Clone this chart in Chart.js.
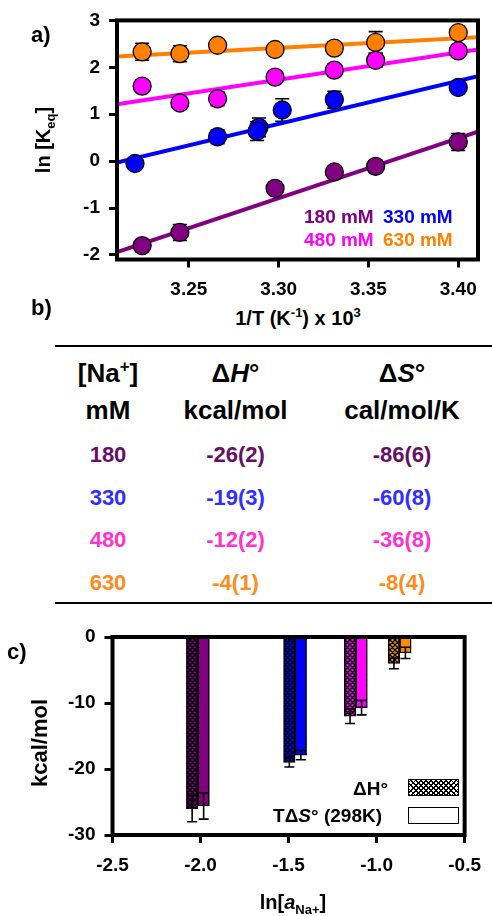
<!DOCTYPE html>
<html><head><meta charset="utf-8">
<script src="https://cdn.jsdelivr.net/npm/chart.js@4.4.1/dist/chart.umd.min.js"></script>
<style>
html,body{margin:0;padding:0;background:#fff;}
body{width:492px;height:916px;position:relative;overflow:hidden;font-family:"Liberation Sans",Arial,sans-serif;font-weight:bold;color:#000;}
.t,.r,.l{position:absolute;white-space:nowrap;line-height:1;}
.t{transform:translate(-50%,-50%);}
.r{transform:translate(-100%,-50%);}
.l{transform:translate(0,-50%);}
.rot{transform:translate(-50%,-50%) rotate(-90deg);}
sub,sup{line-height:0;font-size:65%;}
canvas{position:absolute;left:0;}
.hr{position:absolute;left:55px;width:437px;height:2.5px;background:#000;}
.box{position:absolute;box-sizing:border-box;border:1.5px solid #000;background:#fff;}
.hatchbox{background-color:#fff;background-image:repeating-linear-gradient(45deg,#000 0 1.3px,transparent 1.3px 3.6px),repeating-linear-gradient(-45deg,#000 0 1.3px,transparent 1.3px 3.6px);}
</style></head>
<body>
<canvas id="ca" width="492" height="300" style="top:0"></canvas>
<canvas id="cc" width="492" height="306" style="top:610px"></canvas>

<div class="l" style="left:31px;top:35px;font-size:22px">a)</div>
<div class="t rot" style="left:43px;top:140px;font-size:20px">ln [K<sub>eq</sub>]</div>
<div class="t" style="left:298px;top:318px;font-size:20px">1/T (K<sup>-1</sup>) x 10<sup>3</sup></div>
<div id="legA"></div>

<div class="l" style="left:31px;top:308px;font-size:22px">b)</div>
<div class="hr" style="top:344.5px"></div>
<div class="hr" style="top:601.5px"></div>
<div id="tbl"></div>

<div class="l" style="left:7px;top:652px;font-size:22px">c)</div>
<div class="t rot" style="left:40px;top:743px;font-size:22px">kcal/mol</div>
<div class="t" style="left:293px;top:902px;font-size:20px">ln[<i>a</i><sub>Na+</sub>]</div>
<div class="r" style="left:388px;top:788px;font-size:19px">ΔH°</div>
<div class="r" style="left:382px;top:815px;font-size:19px">TΔ<i>S</i>° (298K)</div>
<div class="box hatchbox" style="left:408px;top:779px;width:51px;height:17px"></div>
<div class="box" style="left:408px;top:807px;width:51px;height:17px"></div>

<script>
// ---------- Panel a data ----------
const xTicksA = [3.25, 3.30, 3.35, 3.40];
const xTickLabelsA = ['3.25', '3.30', '3.35', '3.40'];
const yTicksA = [-2, -1, 0, 1, 2, 3];
const yTickLabelsA = ['-2', '-1', '0', '1', '2', '3'];

const orangeX = [3.224, 3.245, 3.266, 3.298, 3.331, 3.354, 3.400];
const orangeY = [2.33, 2.29, 2.47, 2.38, 2.41, 2.53, 2.74];
const orangeErr = [0.18, 0.17, 0.1, 0.1, 0.1, 0.23, 0.1];
const pinkX = [3.224, 3.245, 3.266, 3.298, 3.331, 3.354, 3.400];
const pinkY = [1.60, 1.24, 1.33, 1.79, 1.94, 2.15, 2.35];
const pinkErr = [0.1, 0.1, 0.15, 0.1, 0.1, 0.15, 0.1];
const blueX = [3.220, 3.266, 3.289, 3.288, 3.302, 3.331, 3.400];
const blueY = [-0.05, 0.52, 0.72, 0.64, 1.09, 1.31, 1.57];
const blueErr = [0.1, 0.15, 0.2, 0.2, 0.24, 0.18, 0.1];
const purpleX = [3.224, 3.245, 3.298, 3.331, 3.354, 3.400];
const purpleY = [-1.80, -1.52, -0.58, -0.23, -0.11, 0.41];
const purpleErr = [0.1, 0.17, 0.1, 0.1, 0.12, 0.18];

const fitX = [3.21, 3.411];
const fitOrange = [2.23, 2.64];
const fitPink = [1.21, 2.38];
const fitBlue = [-0.03, 1.81];
const fitPurple = [-1.94, 0.63];

const legendA = [['180 mM', '#800080'], ['330 mM', '#0000ff'], ['480 mM', '#ff00ff'], ['630 mM', '#ff8000']];

// ---------- Table data ----------
const tableHead1 = ['[Na<sup>+</sup>]', 'Δ<i>H</i>°', 'Δ<i>S</i>°'];
const tableHead2 = ['mM', 'kcal/mol', 'cal/mol/K'];
const naConc = ['180', '330', '480', '630'];
const dHText = ['-26(2)', '-19(3)', '-12(2)', '-4(1)'];
const dSText = ['-86(6)', '-60(8)', '-36(8)', '-8(4)'];
const tableColors = ['#660f66', '#2f2fff', '#ff33cc', '#ff8c1a'];

// ---------- Panel c data ----------
const xTicksC = [-2.5, -2.0, -1.5, -1.0, -0.5];
const xTickLabelsC = ['-2.5', '-2.0', '-1.5', '-1.0', '-0.5'];
const yTicksC = [-30, -20, -10, 0];
const yTickLabelsC = ['-30', '-20', '-10', '0'];
const lnA = [-2.015, -1.463, -1.118, -0.869];
const dH = [-26, -19, -12, -4];
const dHErr = [2, 0.7, 1.1, 0.8];
const TdS = [-25.6, -17.9, -10.7, -2.4];
const TdSErr = [2, 0.7, 1.1, 0.85];
const barColors = ['#800080', '#0000ff', '#ff00ff', '#ff8c00'];

// ---------- HTML texts ----------
(function(){
  const lg = document.getElementById('legA');
  const pos = [[304,216],[383,216],[304,239],[383,239]];
  legendA.forEach((e,i)=>{
    const d = document.createElement('div');
    d.className='l'; d.style.left=pos[i][0]+'px'; d.style.top=pos[i][1]+'px';
    d.style.fontSize='19px'; d.style.color=e[1]; d.textContent=e[0];
    lg.appendChild(d);
  });
  const tb = document.getElementById('tbl');
  const cols = [108, 235.5, 402];
  function cell(html, x, y, size, color){
    const d = document.createElement('div');
    d.className='t'; d.style.left=x+'px'; d.style.top=y+'px';
    d.style.fontSize=size+'px'; if(color) d.style.color=color; d.innerHTML=html;
    tb.appendChild(d);
  }
  tableHead1.forEach((h,i)=>cell(h, cols[i], 373, 26));
  tableHead2.forEach((h,i)=>cell(h, cols[i], 409.5, 26));
  const rowsY = [455, 497.5, 540, 583];
  naConc.forEach((c,i)=>{
    cell(c, cols[0], rowsY[i], 22, tableColors[i]);
    cell(dHText[i], cols[1], rowsY[i], 22, tableColors[i]);
    cell(dSText[i], cols[2], rowsY[i], 22, tableColors[i]);
  });
})();

// ---------- Chart helpers ----------
const FONT = '"Liberation Sans", Arial, sans-serif';
const tickFont = {family: FONT, size: 19, weight: 'bold'};
function fixTicks(vals){ return function(scale){ scale.ticks = vals.map(v=>({value:v})); }; }
const framePlugin = {
  id:'frame',
  afterDraw(chart){
    const {ctx, chartArea:a} = chart;
    ctx.save(); ctx.lineWidth = 4; ctx.strokeStyle = '#000';
    ctx.strokeRect(a.left, a.top, a.right-a.left, a.bottom-a.top);
    ctx.restore();
  }
};
function drawErr(ctx, x, yTop, yBot, half){
  ctx.beginPath();
  ctx.moveTo(x, yTop); ctx.lineTo(x, yBot);
  ctx.moveTo(x-half, yTop); ctx.lineTo(x+half, yTop);
  ctx.moveTo(x-half, yBot); ctx.lineTo(x+half, yBot);
  ctx.stroke();
}
const errPluginA = {
  id:'errA',
  beforeDatasetsDraw(chart){
    const {ctx, scales:{x, y}} = chart;
    ctx.save(); ctx.strokeStyle='#000'; ctx.lineWidth=1.6;
    chart.data.datasets.forEach(ds=>{
      if(!ds.errors) return;
      ds.data.forEach((p,i)=>{
        const e = ds.errors[i];
        drawErr(ctx, x.getPixelForValue(p.x), y.getPixelForValue(p.y+e), y.getPixelForValue(p.y-e), 7);
      });
    });
    ctx.restore();
  }
};
const errPluginC = {
  id:'errC',
  afterDatasetsDraw(chart){
    const {ctx, scales:{y}} = chart;
    ctx.save(); ctx.strokeStyle='#000'; ctx.lineWidth=1.6;
    chart.data.datasets.forEach((ds,di)=>{
      const meta = chart.getDatasetMeta(di);
      ds.data.forEach((p,i)=>{
        const e = ds.errors[i];
        drawErr(ctx, meta.data[i].x, y.getPixelForValue(p.y+e), y.getPixelForValue(p.y-e), 5);
      });
    });
    ctx.restore();
  }
};
function pts(xs, ys){ return xs.map((x,i)=>({x, y:ys[i]})); }
function pointSet(label, xs, ys, errs, color){
  return {label, data: pts(xs, ys), errors: errs, order: 1,
    backgroundColor: color, borderColor: '#000',
    pointBackgroundColor: color, pointBorderColor: '#000', pointBorderWidth: 1.3,
    pointRadius: 9, pointHoverRadius: 9};
}
function fitSet(label, ys, color){
  return {type:'line', label, data: pts(fitX, ys), order: 2,
    borderColor: color, borderWidth: 4, pointRadius: 0, fill: false};
}

// ---------- Panel a chart ----------
new Chart(document.getElementById('ca'), {
  type: 'scatter',
  data: {datasets: [
    pointSet('180 mM', purpleX, purpleY, purpleErr, '#800080'),
    pointSet('330 mM', blueX, blueY, blueErr, '#0000ff'),
    pointSet('480 mM', pinkX, pinkY, pinkErr, '#ff00ff'),
    pointSet('630 mM', orangeX, orangeY, orangeErr, '#ff8000'),
    fitSet('180 mM fit', fitPurple, '#800080'),
    fitSet('330 mM fit', fitBlue, '#0000ff'),
    fitSet('480 mM fit', fitPink, '#ff00ff'),
    fitSet('630 mM fit', fitOrange, '#ff8000')
  ]},
  options: {
    responsive: false, animation: false, devicePixelRatio: 1,
    layout: {padding: {left: 0, right: 14, top: 20, bottom: 0}},
    plugins: {legend: {display: false}, tooltip: {enabled: false}},
    scales: {
      x: {type: 'linear', min: 3.21, max: 3.411,
        afterBuildTicks: fixTicks(xTicksA), afterFit(s){ s.height = 40.5; },
        ticks: {font: tickFont, color: '#000', padding: 11, autoSkip: false, maxRotation: 0,
          callback: (v, i) => xTickLabelsA[i]},
        grid: {drawOnChartArea: false, drawTicks: true, tickLength: 8, tickWidth: 3, tickColor: '#000'},
        border: {display: false}},
      y: {type: 'linear', min: -2.096, max: 3,
        afterBuildTicks: fixTicks(yTicksA), afterFit(s){ s.width = 117; },
        ticks: {font: tickFont, color: '#000', padding: 9, autoSkip: false,
          callback: (v, i) => yTickLabelsA[i]},
        grid: {drawOnChartArea: false, drawTicks: true, tickLength: 8, tickWidth: 3, tickColor: '#000'},
        border: {display: false}}
    }
  },
  plugins: [errPluginA, framePlugin]
});

// ---------- Panel c chart ----------
function hatch(color){
  const s = 5, c = document.createElement('canvas'); c.width = s; c.height = s;
  const g = c.getContext('2d');
  g.fillStyle = color; g.fillRect(0, 0, s, s);
  g.strokeStyle = '#000'; g.lineWidth = 1.3; g.beginPath();
  for(let k=-1;k<=1;k++){ g.moveTo(0, k*s); g.lineTo(s, k*s+s); }
  for(let k=0;k<=2;k++){ g.moveTo(0, k*s); g.lineTo(s, k*s-s); }
  g.stroke();
  return g.createPattern(c, 'repeat');
}
new Chart(document.getElementById('cc'), {
  type: 'bar',
  data: {datasets: [
    {label: 'ΔH°', data: pts(lnA, dH), errors: dHErr, backgroundColor: barColors.map(hatch),
      borderColor: '#000', borderWidth: 1.5, barThickness: 11.5},
    {label: 'TΔS° (298K)', data: pts(lnA, TdS), errors: TdSErr, backgroundColor: barColors,
      borderColor: '#000', borderWidth: 1.5, barThickness: 11.5}
  ]},
  options: {
    responsive: false, animation: false, devicePixelRatio: 1,
    layout: {padding: {left: 0, right: 20.5, top: 27, bottom: 0}},
    plugins: {legend: {display: false}, tooltip: {enabled: false}},
    scales: {
      x: {type: 'linear', min: -2.5, max: -0.5, offset: false,
        afterBuildTicks: fixTicks(xTicksC), afterFit(s){ s.height = 81; },
        ticks: {font: tickFont, color: '#000', padding: 11, autoSkip: false, maxRotation: 0,
          callback: (v, i) => xTickLabelsC[i]},
        grid: {offset: false, drawOnChartArea: false, drawTicks: true, tickLength: 8, tickWidth: 3, tickColor: '#000'},
        border: {display: false}},
      y: {type: 'linear', min: -30, max: 0,
        afterBuildTicks: fixTicks(yTicksC), afterFit(s){ s.width = 112.5; },
        ticks: {font: tickFont, color: '#000', padding: 9, autoSkip: false,
          callback: (v, i) => yTickLabelsC[i]},
        grid: {drawOnChartArea: false, drawTicks: true, tickLength: 8, tickWidth: 3, tickColor: '#000'},
        border: {display: false}}
    }
  },
  plugins: [errPluginC, framePlugin]
});
</script>
</body></html>
